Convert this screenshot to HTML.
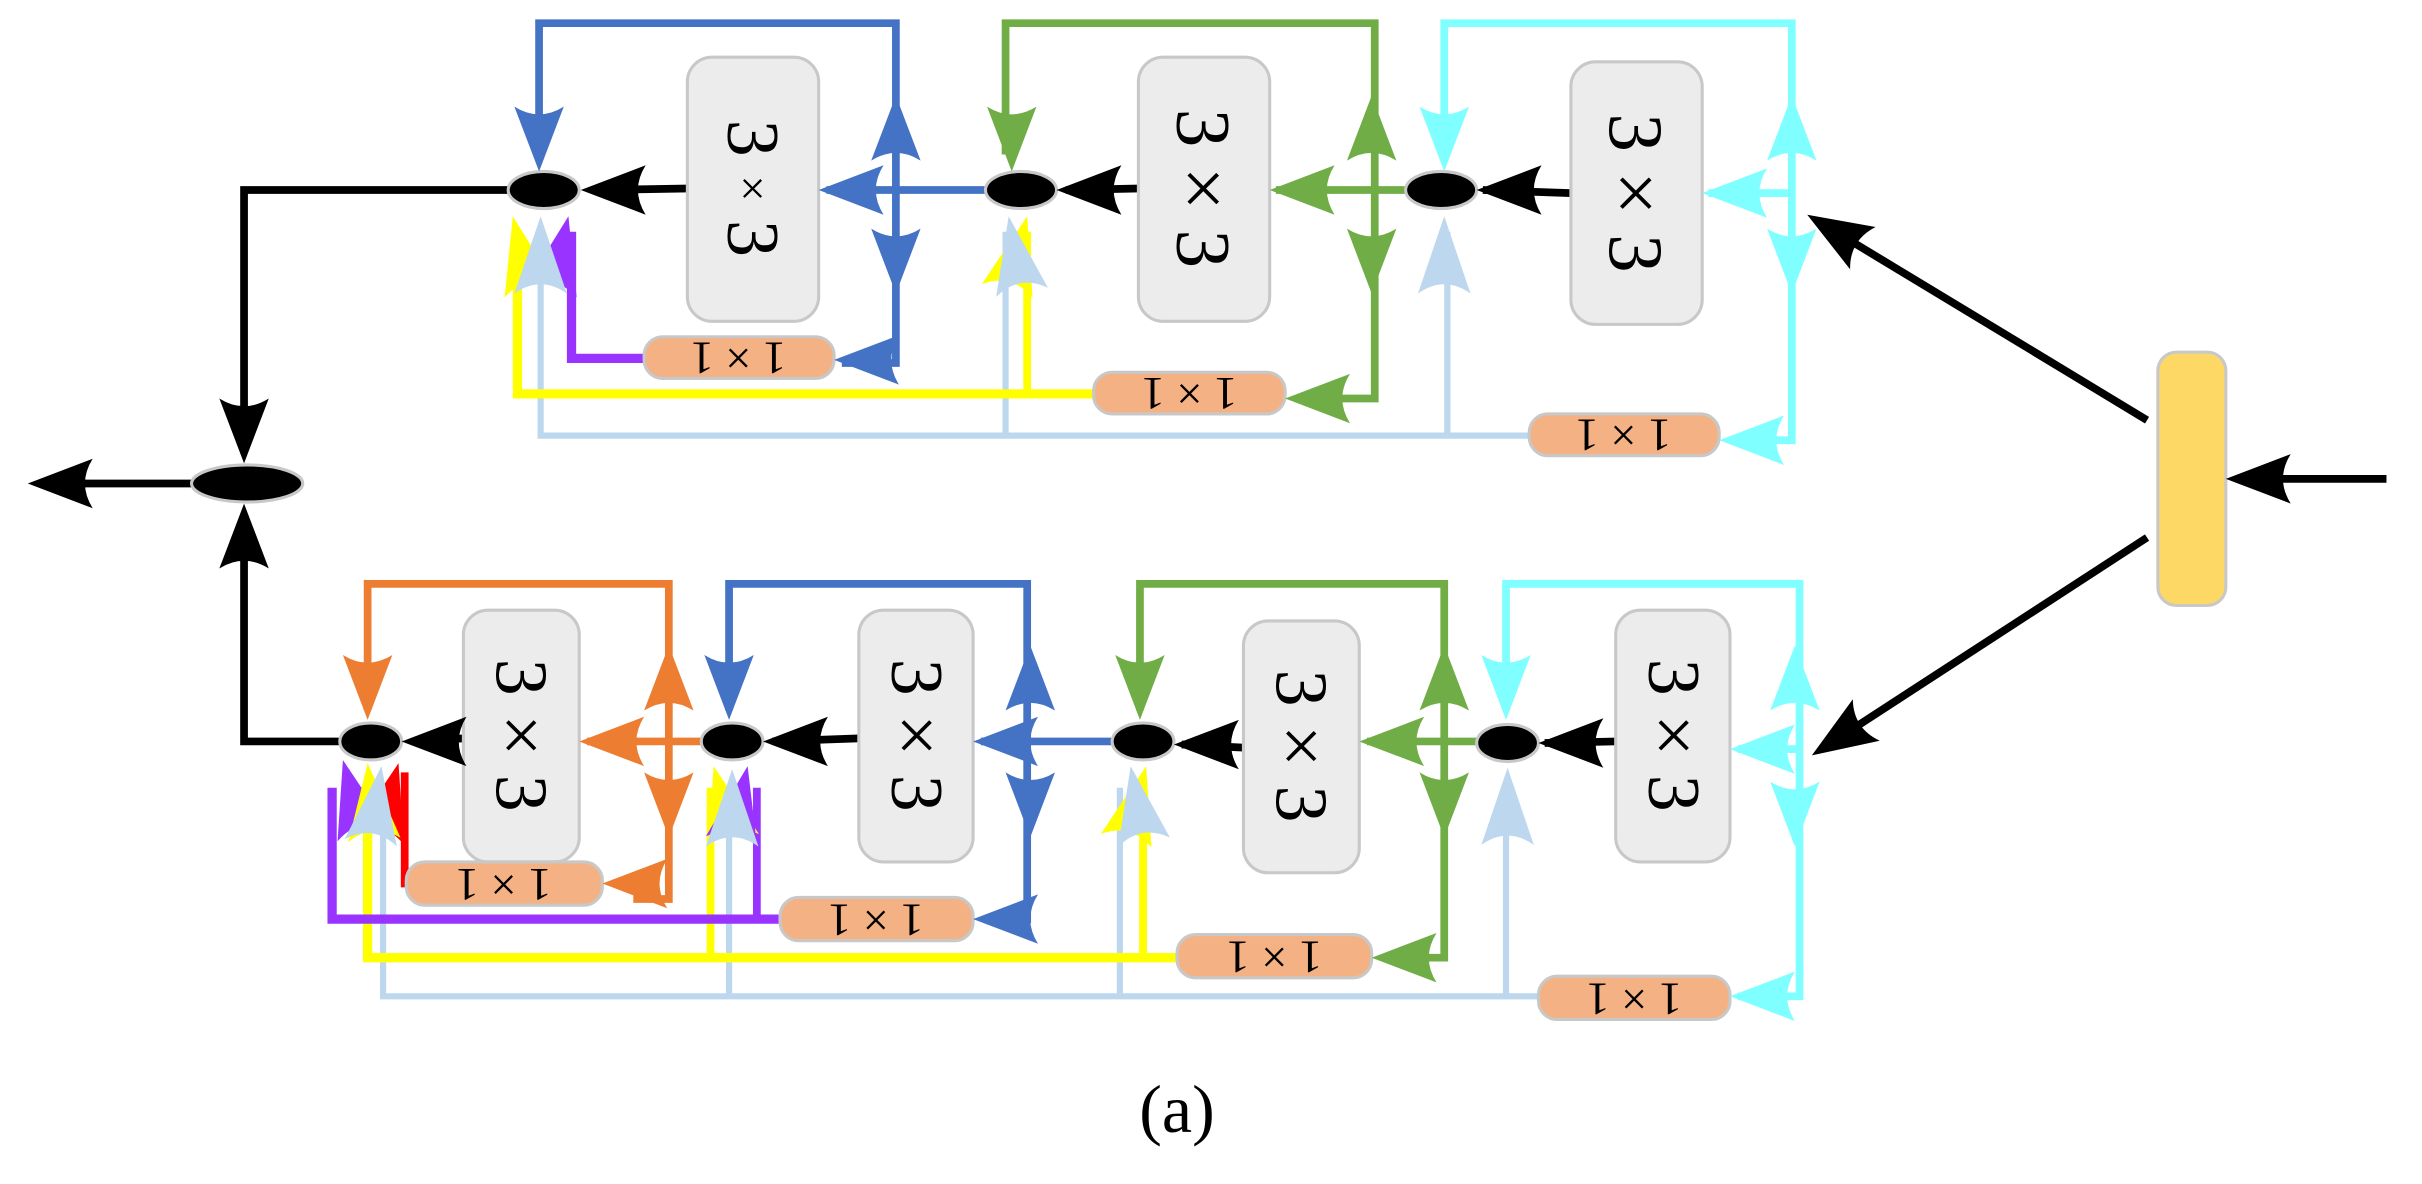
<!DOCTYPE html>
<html><head><meta charset="utf-8"><style>html,body{margin:0;padding:0;background:#fff}svg{display:block}</style></head>
<body>
<svg width="2422" height="1184" viewBox="0 0 1568 766.5" xmlns="http://www.w3.org/2000/svg">
<defs>
<path id="ah" d="M0,0 L-42,-16 Q-32,0 -42,16 Z"/>
<path id="ab" d="M0,0 L-50,-17 Q-38,0 -50,17 Z"/>
</defs>
<g fill="none" stroke-linejoin="miter">
<polyline points="350,150 350,282 990,282" stroke="#bdd7ee" stroke-width="4"/>
<line x1="651" y1="150" x2="651" y2="282" stroke="#bdd7ee" stroke-width="4"/>
<line x1="937" y1="150" x2="937" y2="282" stroke="#bdd7ee" stroke-width="4"/>
<polyline points="335,150 335,255 708,255" stroke="#ffff00" stroke-width="6"/>
<line x1="665" y1="150" x2="665" y2="255" stroke="#ffff00" stroke-width="5"/>
<polyline points="370,150 370,232 417,232" stroke="#9933ff" stroke-width="6"/>
<polyline points="349,100 349,15 580,15 580,235 545,235" stroke="#4472c4" stroke-width="5"/>
<line x1="640" y1="123" x2="535" y2="123" stroke="#4472c4" stroke-width="5"/>
<polyline points="651,100 651,15 890,15 890,258 840,258" stroke="#70ad47" stroke-width="5"/>
<line x1="915" y1="123" x2="826" y2="123" stroke="#70ad47" stroke-width="5"/>
<polyline points="935,100 935,15 1160,15 1160,285 1120,285" stroke="#7fffff" stroke-width="5"/>
<line x1="1160" y1="125" x2="1106" y2="125" stroke="#7fffff" stroke-width="5"/>
<line x1="445" y1="122" x2="385" y2="123" stroke="#000" stroke-width="5"/>
<line x1="737" y1="122" x2="690" y2="123" stroke="#000" stroke-width="5"/>
<line x1="1017" y1="125" x2="960" y2="123" stroke="#000" stroke-width="5"/>
<polyline points="330,123 158,123 158,270" stroke="#000" stroke-width="5"/>
<line x1="1390" y1="272" x2="1185" y2="148" stroke="#000" stroke-width="5"/>
<line x1="1545" y1="310" x2="1460" y2="310" stroke="#000" stroke-width="5"/>
<line x1="125" y1="313" x2="40" y2="313" stroke="#000" stroke-width="5"/>
<polyline points="220,480 158,480 158,355" stroke="#000" stroke-width="5"/>
<line x1="1390" y1="348" x2="1190" y2="478" stroke="#000" stroke-width="5"/>

<polyline points="248,510 248,645 996,645" stroke="#bdd7ee" stroke-width="4"/>
<line x1="472" y1="510" x2="472" y2="645" stroke="#bdd7ee" stroke-width="4"/>
<line x1="725" y1="510" x2="725" y2="645" stroke="#bdd7ee" stroke-width="4"/>
<line x1="975" y1="510" x2="975" y2="645" stroke="#bdd7ee" stroke-width="4"/>
<polyline points="238,510 238,620 762,620" stroke="#ffff00" stroke-width="6"/>
<line x1="460" y1="510" x2="460" y2="620" stroke="#ffff00" stroke-width="5"/>
<line x1="740" y1="510" x2="740" y2="620" stroke="#ffff00" stroke-width="5"/>
<polyline points="215,510 215,595 505,595" stroke="#9933ff" stroke-width="6"/>
<line x1="490" y1="510" x2="490" y2="595" stroke="#9933ff" stroke-width="5"/>
<polyline points="262,500 262,572 265,572" stroke="#ff0000" stroke-width="5"/>
<polyline points="238,460 238,378 433,378 433,582 410,582" stroke="#ed7d31" stroke-width="5"/>
<line x1="455" y1="480" x2="380" y2="480" stroke="#ed7d31" stroke-width="5"/>
<polyline points="472,460 472,378 665,378 665,595 640,595" stroke="#4472c4" stroke-width="5"/>
<line x1="720" y1="480" x2="635" y2="480" stroke="#4472c4" stroke-width="5"/>
<polyline points="738,460 738,378 935,378 935,620 895,620" stroke="#70ad47" stroke-width="5"/>
<line x1="956" y1="480" x2="885" y2="480" stroke="#70ad47" stroke-width="5"/>
<polyline points="975,460 975,378 1165,378 1165,645 1125,645" stroke="#7fffff" stroke-width="5"/>
<line x1="1165" y1="485" x2="1125" y2="485" stroke="#7fffff" stroke-width="5"/>
<line x1="300" y1="478" x2="268" y2="480" stroke="#000" stroke-width="5"/>
<line x1="556" y1="478" x2="500" y2="480" stroke="#000" stroke-width="5"/>
<line x1="805" y1="484" x2="765" y2="482" stroke="#000" stroke-width="5"/>
<line x1="1046" y1="480" x2="1000" y2="481" stroke="#000" stroke-width="5"/>
</g>

<g stroke="#c8c8c8" stroke-width="2">
<rect x="445" y="37" width="85" height="171" rx="16" fill="#ececec"/>
<rect x="737" y="37" width="85" height="171" rx="16" fill="#ececec"/>
<rect x="1017" y="40" width="85" height="170" rx="16" fill="#ececec"/>
<rect x="300" y="395" width="75" height="163" rx="16" fill="#ececec"/>
<rect x="556" y="395" width="74" height="163" rx="16" fill="#ececec"/>
<rect x="805" y="402" width="75" height="163" rx="16" fill="#ececec"/>
<rect x="1046" y="395" width="74" height="163" rx="16" fill="#ececec"/>
<rect x="417" y="218" width="123" height="27" rx="12" fill="#f4b183"/>
<rect x="708" y="241" width="124" height="27" rx="12" fill="#f4b183"/>
<rect x="990" y="268" width="123" height="27" rx="12" fill="#f4b183"/>
<rect x="263" y="558" width="127" height="28" rx="12" fill="#f4b183"/>
<rect x="505" y="581" width="125" height="28" rx="12" fill="#f4b183"/>
<rect x="762" y="605" width="126" height="28" rx="12" fill="#f4b183"/>
<rect x="996" y="632" width="124" height="28" rx="12" fill="#f4b183"/>
<rect x="1397" y="228" width="44" height="164" rx="12" fill="#fdd865"/>
<ellipse cx="352" cy="123" rx="23" ry="12" fill="#000"/>
<ellipse cx="661" cy="123" rx="23" ry="12" fill="#000"/>
<ellipse cx="933" cy="123" rx="23" ry="12" fill="#000"/>
<ellipse cx="160" cy="313" rx="36" ry="12" fill="#000"/>
<ellipse cx="240" cy="480" rx="20" ry="12" fill="#000"/>
<ellipse cx="474" cy="480" rx="20" ry="12" fill="#000"/>
<ellipse cx="740" cy="480" rx="20" ry="12" fill="#000"/>
<ellipse cx="976" cy="481" rx="20" ry="12" fill="#000"/>
</g>

<g font-family="Liberation Serif, serif" fill="#000" text-anchor="middle">
<text transform="translate(487,122) rotate(90)" font-size="48" dominant-baseline="central">3 <tspan font-size="30">×</tspan> 3</text>
<text transform="translate(779,122) rotate(90)" font-size="50" dominant-baseline="central">3 × 3</text>
<text transform="translate(1059,125) rotate(90)" font-size="50" dominant-baseline="central">3 × 3</text>
<text transform="translate(337,476) rotate(90)" font-size="48" dominant-baseline="central">3 × 3</text>
<text transform="translate(593,476) rotate(90)" font-size="48" dominant-baseline="central">3 × 3</text>
<text transform="translate(842,483) rotate(90)" font-size="48" dominant-baseline="central">3 × 3</text>
<text transform="translate(1083,476) rotate(90)" font-size="48" dominant-baseline="central">3 × 3</text>
<text transform="translate(478,231) rotate(180)" font-size="30" dominant-baseline="central">1 × 1</text>
<text transform="translate(770,254) rotate(180)" font-size="30" dominant-baseline="central">1 × 1</text>
<text transform="translate(1051,281) rotate(180)" font-size="30" dominant-baseline="central">1 × 1</text>
<text transform="translate(326,572) rotate(180)" font-size="30" dominant-baseline="central">1 × 1</text>
<text transform="translate(567,595) rotate(180)" font-size="30" dominant-baseline="central">1 × 1</text>
<text transform="translate(825,619) rotate(180)" font-size="30" dominant-baseline="central">1 × 1</text>
<text transform="translate(1058,646) rotate(180)" font-size="30" dominant-baseline="central">1 × 1</text>
<text x="762" y="733" font-size="44">(a)</text>
</g>

<g>
<use href="#ah" fill="#4472c4" transform="translate(349,111) rotate(90)"/>
<use href="#ah" fill="#4472c4" transform="translate(580,62) rotate(-90)"/>
<use href="#ah" fill="#4472c4" transform="translate(580,190) rotate(90)"/>
<use href="#ah" fill="#4472c4" transform="translate(530,123) rotate(180)"/>
<use href="#ah" fill="#4472c4" transform="translate(540,233) rotate(180)"/>
<use href="#ah" fill="#70ad47" transform="translate(655,111) rotate(90)"/>
<use href="#ah" fill="#70ad47" transform="translate(888,62) rotate(-90)"/>
<use href="#ah" fill="#70ad47" transform="translate(888,190) rotate(90)"/>
<use href="#ah" fill="#70ad47" transform="translate(822,123) rotate(180)"/>
<use href="#ah" fill="#70ad47" transform="translate(832,258) rotate(180)"/>
<use href="#ah" fill="#7fffff" transform="translate(935,111) rotate(90)"/>
<use href="#ah" fill="#7fffff" transform="translate(1160,62) rotate(-90)"/>
<use href="#ah" fill="#7fffff" transform="translate(1160,190) rotate(90)"/>
<use href="#ah" fill="#7fffff" transform="translate(1102,125) rotate(180)"/>
<use href="#ah" fill="#7fffff" transform="translate(1113,285) rotate(180)"/>
<use href="#ah" fill="#000" transform="translate(376,123) rotate(180)"/>
<use href="#ah" fill="#000" transform="translate(684,123) rotate(180)"/>
<use href="#ah" fill="#000" transform="translate(956,123) rotate(180)"/>
<use href="#ab" fill="#ffff00" transform="translate(332,140) rotate(-103)"/>
<use href="#ab" fill="#9933ff" transform="translate(368,140) rotate(-77)"/>
<use href="#ab" fill="#bdd7ee" transform="translate(350,140) rotate(-90)"/>
<use href="#ab" fill="#ffff00" transform="translate(665,140) rotate(-75)"/>
<use href="#ab" fill="#bdd7ee" transform="translate(653,140) rotate(-100)"/>
<use href="#ab" fill="#bdd7ee" transform="translate(935,140) rotate(-90)"/>
<use href="#ah" fill="#000" transform="translate(158,300) rotate(90)"/>
<use href="#ah" fill="#000" transform="translate(158,326) rotate(-90)"/>
<use href="#ah" fill="#000" transform="translate(18,313) rotate(180)"/>
<use href="#ah" fill="#000" transform="translate(1441,310) rotate(180)"/>
<use href="#ah" fill="#000" transform="translate(1170,139) rotate(211)"/>
<use href="#ah" fill="#000" transform="translate(1173,489) rotate(147)"/>
<use href="#ah" fill="#ed7d31" transform="translate(238,466) rotate(90)"/>
<use href="#ah" fill="#ed7d31" transform="translate(433,418) rotate(-90)"/>
<use href="#ah" fill="#ed7d31" transform="translate(433,542) rotate(90)"/>
<use href="#ah" fill="#ed7d31" transform="translate(375,480) rotate(180)"/>
<use href="#ah" fill="#ed7d31" transform="translate(390,572) rotate(180)"/>
<use href="#ah" fill="#4472c4" transform="translate(472,466) rotate(90)"/>
<use href="#ah" fill="#4472c4" transform="translate(667,418) rotate(-90)"/>
<use href="#ah" fill="#4472c4" transform="translate(667,542) rotate(90)"/>
<use href="#ah" fill="#4472c4" transform="translate(630,480) rotate(180)"/>
<use href="#ah" fill="#4472c4" transform="translate(630,595) rotate(180)"/>
<use href="#ah" fill="#70ad47" transform="translate(738,466) rotate(90)"/>
<use href="#ah" fill="#70ad47" transform="translate(935,418) rotate(-90)"/>
<use href="#ah" fill="#70ad47" transform="translate(935,542) rotate(90)"/>
<use href="#ah" fill="#70ad47" transform="translate(880,480) rotate(180)"/>
<use href="#ah" fill="#70ad47" transform="translate(888,620) rotate(180)"/>
<use href="#ah" fill="#7fffff" transform="translate(975,466) rotate(90)"/>
<use href="#ah" fill="#7fffff" transform="translate(1162,418) rotate(-90)"/>
<use href="#ah" fill="#7fffff" transform="translate(1162,548) rotate(90)"/>
<use href="#ah" fill="#7fffff" transform="translate(1120,485) rotate(180)"/>
<use href="#ah" fill="#7fffff" transform="translate(1120,645) rotate(180)"/>
<use href="#ah" fill="#000" transform="translate(260,480) rotate(180)"/>
<use href="#ah" fill="#000" transform="translate(494,480) rotate(180)"/>
<use href="#ah" fill="#000" transform="translate(760,482) rotate(180)"/>
<use href="#ah" fill="#000" transform="translate(996,481) rotate(180)"/>
<use href="#ab" fill="#9933ff" transform="translate(222,492) rotate(-105)"/>
<use href="#ab" fill="#ff0000" transform="translate(258,494) rotate(-75)"/>
<use href="#ab" fill="#ffff00" transform="translate(238,494) rotate(-95)"/>
<use href="#ab" fill="#bdd7ee" transform="translate(247,496) rotate(-82)"/>
<use href="#ab" fill="#ffff00" transform="translate(462,496) rotate(-105)"/>
<use href="#ab" fill="#9933ff" transform="translate(484,496) rotate(-78)"/>
<use href="#ab" fill="#bdd7ee" transform="translate(474,498) rotate(-90)"/>
<use href="#ab" fill="#ffff00" transform="translate(742,496) rotate(-75)"/>
<use href="#ab" fill="#bdd7ee" transform="translate(732,496) rotate(-100)"/>
<use href="#ab" fill="#bdd7ee" transform="translate(976,497) rotate(-90)"/>
</g>
</svg>
</body></html>
